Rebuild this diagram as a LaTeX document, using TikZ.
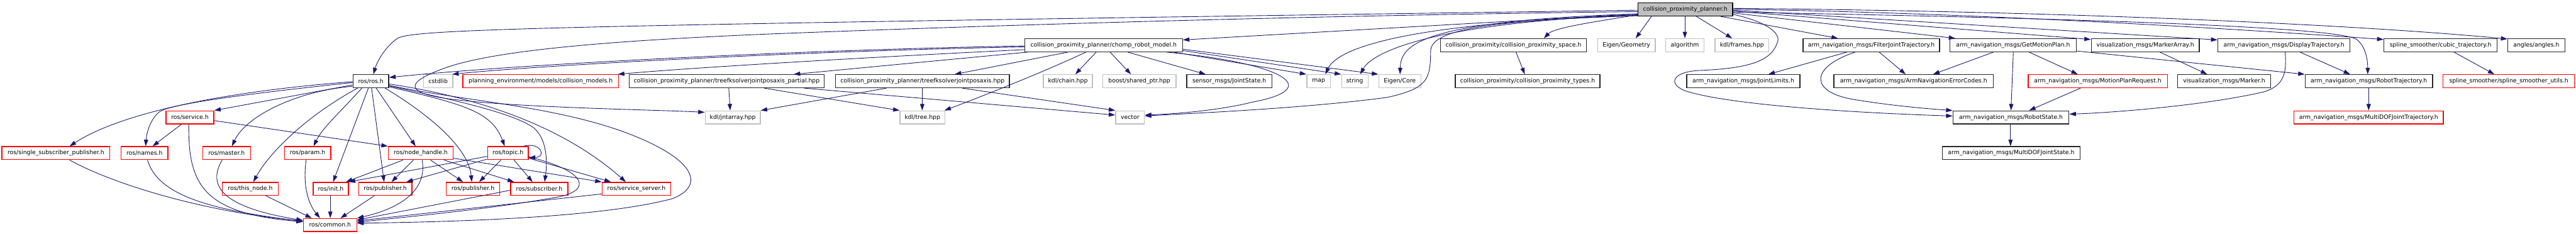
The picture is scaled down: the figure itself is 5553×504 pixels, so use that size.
\documentclass[tikz,border=0pt]{standalone}
\usepackage{fontspec}
\setmainfont{DejaVu Sans}
\usetikzlibrary{arrows.meta,calc}
\definecolor{edgecol}{HTML}{191970}
\definecolor{gborder}{HTML}{BFBFBF}
\newcommand\nodefont{\fontsize{6.3pt}{7.5pt}\selectfont}
\newcommand{\bx}[6]{\node[#1, minimum width={(#4-#3)*0.5pt}] (#2) at ({(#3+#4)/2},#5) {#6};}
\tikzset{
  nb/.style={draw, rectangle, minimum height=14pt, inner sep=0pt, line width=0.9pt, font=\nodefont},
  gry/.style={nb, draw=gborder},
  blk/.style={nb, draw=black!85},
  rd/.style={nb, draw=red},
  rootn/.style={nb, draw=black, fill=gborder},
  e/.style={draw=edgecol, line width=0.6pt, -{Triangle[length=7pt,width=4.6pt]}},
}
\begin{document}
\begin{tikzpicture}[x=0.5pt,y=-0.5pt]
\fill[white] (0,0) rectangle (5553,504);
\useasboundingbox (0,0) rectangle (5553,504);
% row 0
\bx{rootn}{root}{3531}{3735}{20.5}{collision\_proximity\_planner.h}
% row 1
\bx{blk}{chomp}{2209}{2549}{97.5}{collision\_proximity\_planner/chomp\_robot\_model.h}
\bx{blk}{cps}{3105}{3420}{97.5}{collision\_proximity/collision\_proximity\_space.h}
\bx{gry}{geom}{3444}{3568}{97.5}{Eigen/Geometry}
\bx{gry}{algo}{3591}{3673}{97.5}{algorithm}
\bx{gry}{frames}{3697}{3813}{97.5}{kdl/frames.hpp}
\bx{blk}{filter}{3887}{4181}{97.5}{arm\_navigation\_msgs/FilterJointTrajectory.h}
\bx{blk}{gmp}{4203}{4476}{97.5}{arm\_navigation\_msgs/GetMotionPlan.h}
\bx{blk}{marray}{4508}{4741}{97.5}{visualization\_msgs/MarkerArray.h}
\bx{blk}{dtraj}{4781}{5066}{97.5}{arm\_navigation\_msgs/DisplayTrajectory.h}
\bx{blk}{cubic}{5139}{5383}{97.5}{spline\_smoother/cubic\_trajectory.h}
\bx{blk}{angles}{5406}{5529}{97.5}{angles/angles.h}
% row 2
\bx{blk}{ros}{761}{838}{175}{ros/ros.h}
\bx{gry}{cstdlib}{913}{976}{175}{cstdlib}
\bx{rd}{cmodels}{998}{1333}{175}{planning\_environment/models/collision\_models.h}
\bx{blk}{partial}{1356}{1777}{175}{collision\_proximity\_planner/treefksolverjointposaxis\_partial.hpp}
\bx{blk}{treefk}{1801}{2176}{175}{collision\_proximity\_planner/treefksolverjointposaxis.hpp}
\bx{gry}{chain}{2249}{2355}{175}{kdl/chain.hpp}
\bx{gry}{sptr}{2377}{2535}{175}{boost/shared\_ptr.hpp}
\bx{blk}{jstate}{2558}{2742}{175}{sensor\_msgs/JointState.h}
\bx{gry}{map}{2817}{2868}{175}{map}
\bx{gry}{string}{2892}{2949}{175}{string}
\bx{gry}{core}{2972}{3063}{175}{Eigen/Core}
\bx{blk}{types}{3137}{3449}{175}{collision\_proximity/collision\_proximity\_types.h}
\bx{blk}{jlimits}{3636}{3880}{175}{arm\_navigation\_msgs/JointLimits.h}
\bx{blk}{errc}{3953}{4297}{175}{arm\_navigation\_msgs/ArmNavigationErrorCodes.h}
\bx{rd}{mpr}{4372}{4672}{175}{arm\_navigation\_msgs/MotionPlanRequest.h}
\bx{blk}{marker}{4694}{4895}{175}{visualization\_msgs/Marker.h}
\bx{blk}{rtraj}{4969}{5244}{175}{arm\_navigation\_msgs/RobotTrajectory.h}
\bx{rd}{utils}{5266}{5550}{175}{spline\_smoother/spline\_smoother\_utils.h}
% row 3
\bx{rd}{service}{358}{461}{253}{ros/service.h}
\bx{gry}{jnt}{1520}{1639}{253}{kdl/jntarray.hpp}
\bx{gry}{tree}{1940}{2037}{253}{kdl/tree.hpp}
\bx{gry}{vector}{2405}{2467}{253}{vector}
\bx{blk}{rstate}{4210}{4460}{253}{arm\_navigation\_msgs/RobotState.h}
\bx{rd}{mdjt}{4945}{5267}{253}{arm\_navigation\_msgs/MultiDOFJointTrajectory.h}
% row 4
\bx{rd}{single}{4}{237}{330}{ros/single\_subscriber\_publisher.h}
\bx{rd}{names}{261}{362}{330}{ros/names.h}
\bx{rd}{master}{437}{540}{330}{ros/master.h}
\bx{rd}{param}{613}{713}{330}{ros/param.h}
\bx{rd}{nh}{837}{977}{330}{ros/node\_handle.h}
\bx{rd}{topic}{1051}{1139}{330}{ros/topic.h}
\bx{blk}{mdjs}{4187}{4484}{330}{arm\_navigation\_msgs/MultiDOFJointState.h}
% row 5
\bx{rd}{thisnode}{479}{600}{407}{ros/this\_node.h}
\bx{rd}{init}{675}{751}{407}{ros/init.h}
\bx{rd}{pubA}{773}{888}{407}{ros/publisher.h}
\bx{rd}{pubB}{962}{1077}{407}{ros/publisher.h}
\bx{rd}{sub}{1101}{1224}{407}{ros/subscriber.h}
\bx{rd}{srvsrv}{1298}{1446}{407}{ros/service\_server.h}
% row 6
\bx{rd}{common}{654}{769}{485}{ros/common.h}

% ---- root edges
\draw[e] (root.west |- 0,22) .. controls (1200,55) and (900,62) .. (858,82) .. controls (830,100) and (812,135) .. (ros.north -| 805,0);
\draw[e] (root.west |- 0,25) .. controls (2700,35) and (2000,60) .. (1665,73) .. controls (1300,88) and (1050,110) .. (950,150) .. controls (870,180) and (880,200) .. (960,212) .. controls (1100,232) and (1400,236) .. (jnt.west |- 0,242);
\draw[e] (root.west |- 0,30) -- (chomp.east |- 0,86);
\draw[e] (root.west |- 0,32) .. controls (3430,48) and (3350,60) .. (cps.north -| 3328,0);
\draw[e] (root.south -| 3560,0) -- (geom.north -| 3526,0);
\draw[e] (root.south -| 3632,0) -- (algo.north -| 3632,0);
\draw[e] (root.south -| 3657,0) -- (frames.north -| 3734,0);
\draw[e] (root.south -| 3709,0) -- (filter.north -| 3962,0);
\draw[e] (root.east |- 0,31) .. controls (3800,45) and (3845,70) .. (3830,95) .. controls (3815,135) and (3760,148) .. (3660,152) .. controls (3600,156) and (3595,185) .. (3640,198) .. controls (3750,230) and (4050,245) .. (rstate.west |- 0,250);
\draw[e] (root.east |- 0,28) -- (gmp.north -| 4215,0);
\draw[e] (root.east |- 0,24) -- (marray.west |- 0,85);
\draw[e] (root.east |- 0,22) -- (dtraj.west |- 0,86);
\draw[e] (root.east |- 0,20) .. controls (4300,28) and (4900,68) .. (cubic.west |- 0,85);
\draw[e] (root.east |- 0,18) .. controls (4500,25) and (5100,55) .. (angles.west |- 0,84);
\draw[e] (root.east |- 0,26) .. controls (4500,40) and (5040,58) .. (5080,85) .. controls (5100,100) and (5104,130) .. (rtraj.north -| 5104,0);
\draw[e] (root.west |- 0,34) .. controls (3000,50) and (2880,110) .. (map.north -| 2857,0);
\draw[e] (root.west |- 0,32) .. controls (3100,48) and (2960,110) .. (string.north -| 2932,0);
\draw[e] (root.west |- 0,30) .. controls (3050,45) and (3020,100) .. (core.north -| 3018,0);
\draw[e] (root.west |- 0,33) .. controls (3200,45) and (3085,65) .. (3084,110) .. controls (3083,170) and (3080,190) .. (2990,210) .. controls (2800,235) and (2550,245) .. (vector.east |- 0,250);
% ---- chomp edges
\draw[e] (chomp.west |- 0,99) .. controls (1700,108) and (1100,140) .. (ros.east |- 0,167);
\draw[e] (chomp.west |- 0,101) .. controls (1700,111) and (1150,142) .. ([xshift=-1pt]cstdlib.north east);
\draw[e] (chomp.west |- 0,107) .. controls (1900,122) and (1500,145) .. ([xshift=-1pt]cmodels.north east);
\draw[e] (chomp.south -| 2215,0) -- (partial.north -| 1711,0);
\draw[e] (chomp.south -| 2302,0) -- (treefk.north -| 2058,0);
\draw[e] (chomp.south -| 2341,0) .. controls (2260,150) and (2150,195) .. ([xshift=-1pt]tree.north east);
\draw[e] (chomp.south -| 2363,0) -- (chain.north -| 2318,0);
\draw[e] (chomp.south -| 2393,0) -- (sptr.north -| 2438,0);
\draw[e] (chomp.south -| 2431,0) -- (jstate.north -| 2599,0);
\draw[e] (chomp.south -| 2515,0) .. controls (2760,135) and (2860,190) .. (2700,220) .. controls (2620,240) and (2520,246) .. (vector.east |- 0,248);
\draw[e] (chomp.east |- 0,106) -- (core.north west);
\draw[e] (chomp.east |- 0,109) -- (string.north west);
\draw[e] (chomp.south -| 2530,0) -- (map.north west);
% ---- kdl helpers
\draw[e] (partial.south -| 1571,0) -- (jnt.north -| 1574,0);
\draw[e] (partial.south -| 1647,0) -- (tree.north west);
\draw[e] (partial.south -| 1733,0) -- (vector.west |- 0,248);
\draw[e] (treefk.south -| 1911,0) -- (jnt.north east);
\draw[e] (treefk.south -| 1988,0) -- (tree.north -| 1988,0);
\draw[e] (treefk.south -| 2074,0) -- (vector.north west);
\draw[e] (cps.south -| 3268,0) -- (types.north -| 3287,0);
% ---- ros edges
\draw[e] (ros.west |- 0,176) .. controls (450,200) and (250,250) .. (single.north -| 150,0);
\draw[e] (ros.west |- 0,178) .. controls (600,195) and (380,220) .. (345,240) .. controls (325,255) and (316,285) .. (names.north -| 314,0);
\draw[e] (ros.west |- 0,183) -- (service.north east);
\draw[e] (ros.west |- 0,186) .. controls (640,196) and (530,250) .. (master.north -| 500,0);
\draw[e] (ros.south -| 771,0) .. controls (660,250) and (580,330) .. (thisnode.north -| 546,0);
\draw[e] (ros.south -| 780,0) .. controls (740,235) and (695,275) .. (param.north -| 676,0);
\draw[e] (ros.south -| 794,0) -- (init.north -| 718,0);
\draw[e] (ros.south -| 801,0) -- (pubA.north -| 828,0);
\draw[e] (ros.south -| 811,0) -- (nh.north -| 896,0);
\draw[e] (ros.south -| 830,0) .. controls (930,250) and (1010,320) .. (pubB.north -| 1017,0);
\draw[e] (ros.east |- 0,187) .. controls (1000,225) and (1060,240) .. (topic.north -| 1088,0);
\draw[e] (ros.east |- 0,185) .. controls (950,210) and (1100,240) .. (1150,275) .. controls (1180,300) and (1180,350) .. (sub.north -| 1174,0);
\draw[e] (ros.east |- 0,181) .. controls (1000,205) and (1200,260) .. (srvsrv.north -| 1349,0);
\draw[e] (ros.east |- 0,184) .. controls (1000,218) and (1200,228) .. (1360,290) .. controls (1500,345) and (1520,400) .. (1450,428) .. controls (1300,468) and (1000,478) .. (common.east |- 0,481);
\draw[e] (service.south -| 391,0) -- (names.north -| 329,0);
\draw[e] (service.south -| 407,0) .. controls (405,400) and (440,460) .. (common.west |- 0,478);
\draw[e] (service.east |- 0,260) -- (nh.north west);
\draw[e] (single.south -| 150,0) .. controls (250,400) and (450,458) .. (common.west |- 0,476);
\draw[e] (names.south -| 318,0) .. controls (340,420) and (450,452) .. (common.west |- 0,477);
\draw[e] (master.south -| 479,0) .. controls (440,410) and (500,450) .. (common.west |- 0,475);
\draw[e] (thisnode.south -| 573,0) -- (common.north -| 672,0);
\draw[e] (param.south -| 660,0) .. controls (652,400) and (665,440) .. (common.north -| 690,0);
\draw[e] (init.south -| 712,0) -- (common.north -| 712,0);
\draw[e] (pubA.south -| 807,0) -- (common.north -| 734,0);
\draw[e] (nh.south -| 869,0) -- (init.north -| 746,0);
\draw[e] (nh.south -| 891,0) -- (pubA.north -| 844,0);
\draw[e] (nh.south -| 910,0) .. controls (920,400) and (880,445) .. (common.north east);
\draw[e] (nh.south -| 928,0) -- (pubB.north -| 998,0);
\draw[e] (nh.south -| 957,0) -- (sub.north -| 1108,0);
\draw[e] (nh.east |- 0,341) -- (srvsrv.north west);
\draw[e] (topic.west |- 0,337) -- (init.north east);
\draw[e] (topic.west |- 0,343) -- (pubA.north -| 876,0);
\draw[e] (topic.south -| 1080,0) -- (pubB.north -| 1033,0);
\draw[e] (topic.south -| 1108,0) -- (sub.north -| 1148,0);
\draw[e] (topic.east |- 0,341) -- (srvsrv.north -| 1317,0);
\draw[e] (topic.north -| 1128,0) .. controls (1165,305) and (1180,338) .. (topic.east |- 0,340);
\draw[e] (topic.east |- 0,338) .. controls (1270,370) and (1275,412) .. (1200,425) .. controls (1050,452) and (850,470) .. (common.east |- 0,479);
\draw[e] (sub.west |- 0,410) -- (common.east |- 0,474);
\draw[e] (srvsrv.west |- 0,418) -- (common.east |- 0,476);
% ---- arm navigation edges
\draw[e] (filter.south -| 3981,0) -- (jlimits.north -| 3812,0);
\draw[e] (filter.south -| 4051,0) -- (errc.north -| 4108,0);
\draw[e] (filter.south -| 3999,0) .. controls (3900,145) and (3900,200) .. (4000,215) .. controls (4080,228) and (4150,234) .. (rstate.north west);
\draw[e] (gmp.south -| 4297,0) -- (errc.north -| 4167,0);
\draw[e] (gmp.south -| 4340,0) -- (rstate.north -| 4335,0);
\draw[e] (gmp.south -| 4374,0) -- (mpr.north -| 4479,0);
\draw[e] (gmp.east |- 0,110) -- (rtraj.north west);
\draw[e] (mpr.south -| 4485,0) -- (rstate.north -| 4374,0);
\draw[e] (marray.south -| 4656,0) -- (marker.north -| 4758,0);
\draw[e] (dtraj.south -| 4926,0) .. controls (4930,160) and (4922,185) .. (4880,198) .. controls (4750,228) and (4550,243) .. (rstate.east |- 0,246);
\draw[e] (dtraj.south -| 4958,0) -- (rtraj.north -| 5066,0);
\draw[e] (rtraj.south -| 5106,0) -- (mdjt.north -| 5106,0);
\draw[e] (cubic.south -| 5290,0) -- (utils.north -| 5377,0);
\draw[e] (rstate.south -| 4334,0) -- (mdjs.north -| 4334,0);
\end{tikzpicture}
\end{document}
